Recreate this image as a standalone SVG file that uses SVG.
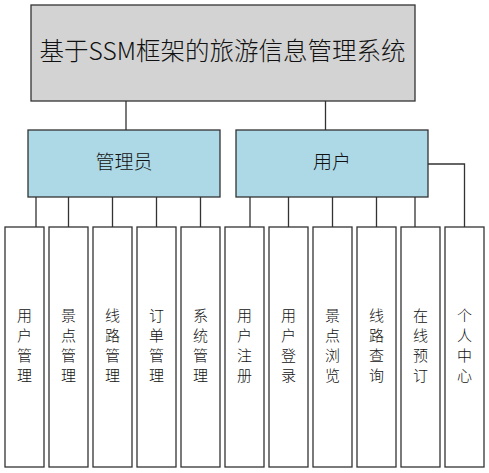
<svg xmlns="http://www.w3.org/2000/svg" width="489" height="473" viewBox="0 0 489 473">
<style>
.box{stroke:#333;stroke-width:1.3}
.root{fill:#d3d3d3}
.mid{fill:#add8e6}
.leaf{fill:#fff}
.t{font-family:"Noto Sans CJK SC","Microsoft YaHei",sans-serif;font-weight:300;fill:#111;text-anchor:middle}
.lt{font-size:15px}
.conn{stroke:#333;stroke-width:1.3;fill:none}
</style>
<rect width="489" height="473" fill="#fff"/>
<g id="connectors">
<path class="conn" d="M126 101V130M325.5 101V130"/>
<path class="conn" d="M36 197V227M68.5 197V227M112.5 197V227M156.5 197V227M200.5 197V227"/>
<path class="conn" d="M250 197V227M288.5 197V227M332.5 197V227M376.5 197V227M415 197V227M428 164H464.5V227"/>
</g>
<g id="root"><rect class="box root" x="31" y="5" width="384" height="96"/><text class="t" x="222.5" y="59.5" font-size="24.5">基于SSM框架的旅游信息管理系统</text></g>
<g id="admin"><rect class="box mid" x="28" y="130" width="192" height="67"/><text class="t" x="124" y="169" font-size="19">管理员</text></g>
<g id="user"><rect class="box mid" x="236" y="130" width="192" height="67"/><text class="t" x="332" y="169" font-size="19">用户</text></g>
<g id="leaf1"><rect class="box leaf" x="5" y="227" width="39" height="240"/><text class="t lt"><tspan x="24.5" y="320.5">用</tspan><tspan x="24.5" y="340.5">户</tspan><tspan x="24.5" y="360.5">管</tspan><tspan x="24.5" y="380.5">理</tspan></text></g>
<g id="leaf2"><rect class="box leaf" x="49" y="227" width="39" height="240"/><text class="t lt"><tspan x="68.5" y="320.5">景</tspan><tspan x="68.5" y="340.5">点</tspan><tspan x="68.5" y="360.5">管</tspan><tspan x="68.5" y="380.5">理</tspan></text></g>
<g id="leaf3"><rect class="box leaf" x="93" y="227" width="39" height="240"/><text class="t lt"><tspan x="112.5" y="320.5">线</tspan><tspan x="112.5" y="340.5">路</tspan><tspan x="112.5" y="360.5">管</tspan><tspan x="112.5" y="380.5">理</tspan></text></g>
<g id="leaf4"><rect class="box leaf" x="137" y="227" width="39" height="240"/><text class="t lt"><tspan x="156.5" y="320.5">订</tspan><tspan x="156.5" y="340.5">单</tspan><tspan x="156.5" y="360.5">管</tspan><tspan x="156.5" y="380.5">理</tspan></text></g>
<g id="leaf5"><rect class="box leaf" x="181" y="227" width="39" height="240"/><text class="t lt"><tspan x="200.5" y="320.5">系</tspan><tspan x="200.5" y="340.5">统</tspan><tspan x="200.5" y="360.5">管</tspan><tspan x="200.5" y="380.5">理</tspan></text></g>
<g id="leaf6"><rect class="box leaf" x="225" y="227" width="39" height="240"/><text class="t lt"><tspan x="244.5" y="320.5">用</tspan><tspan x="244.5" y="340.5">户</tspan><tspan x="244.5" y="360.5">注</tspan><tspan x="244.5" y="380.5">册</tspan></text></g>
<g id="leaf7"><rect class="box leaf" x="269" y="227" width="39" height="240"/><text class="t lt"><tspan x="288.5" y="320.5">用</tspan><tspan x="288.5" y="340.5">户</tspan><tspan x="288.5" y="360.5">登</tspan><tspan x="288.5" y="380.5">录</tspan></text></g>
<g id="leaf8"><rect class="box leaf" x="313" y="227" width="39" height="240"/><text class="t lt"><tspan x="332.5" y="320.5">景</tspan><tspan x="332.5" y="340.5">点</tspan><tspan x="332.5" y="360.5">浏</tspan><tspan x="332.5" y="380.5">览</tspan></text></g>
<g id="leaf9"><rect class="box leaf" x="357" y="227" width="39" height="240"/><text class="t lt"><tspan x="376.5" y="320.5">线</tspan><tspan x="376.5" y="340.5">路</tspan><tspan x="376.5" y="360.5">查</tspan><tspan x="376.5" y="380.5">询</tspan></text></g>
<g id="leaf10"><rect class="box leaf" x="401" y="227" width="39" height="240"/><text class="t lt"><tspan x="420.5" y="320.5">在</tspan><tspan x="420.5" y="340.5">线</tspan><tspan x="420.5" y="360.5">预</tspan><tspan x="420.5" y="380.5">订</tspan></text></g>
<g id="leaf11"><rect class="box leaf" x="445" y="227" width="39" height="240"/><text class="t lt"><tspan x="464.5" y="320.5">个</tspan><tspan x="464.5" y="340.5">人</tspan><tspan x="464.5" y="360.5">中</tspan><tspan x="464.5" y="380.5">心</tspan></text></g>
</svg>
